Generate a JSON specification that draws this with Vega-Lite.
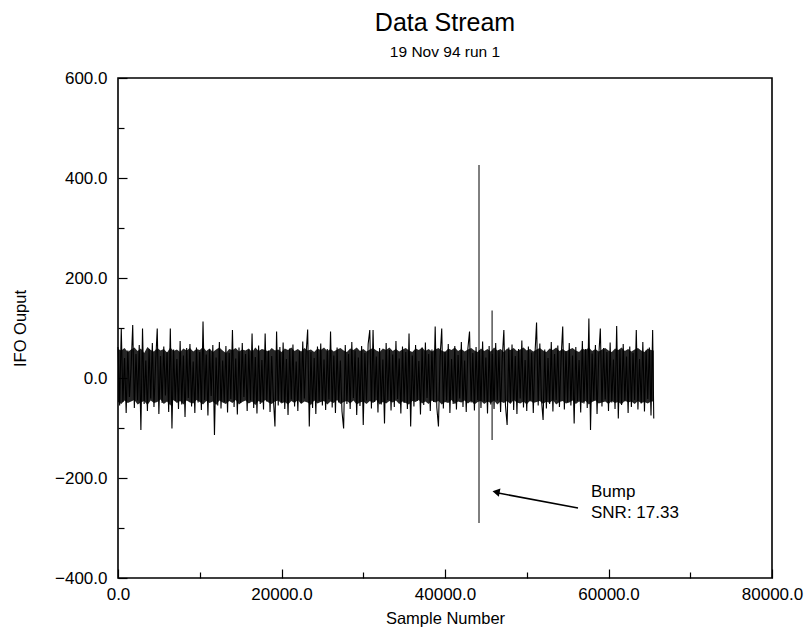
{
  "$schema": "https://vega.github.io/schema/vega-lite/v6.json",
  "width": 654,
  "height": 500,
  "autosize": "none",
  "padding": {"left": 118, "top": 78, "right": 32, "bottom": 52},
  "background": "white",
  "title": {
    "text": "Data Stream",
    "subtitle": "19 Nov 94 run 1",
    "font": "Liberation Sans",
    "fontSize": 25,
    "fontWeight": "normal",
    "color": "black",
    "subtitleFont": "Liberation Sans",
    "subtitleFontSize": 15.5,
    "subtitleColor": "black",
    "subtitlePadding": 9,
    "offset": 9,
    "anchor": "middle"
  },
  "config": {
    "view": {"stroke": "black", "strokeWidth": 1.6},
    "axis": {
      "grid": false,
      "domain": false,
      "labelFont": "Liberation Sans",
      "labelFontSize": 17,
      "labelColor": "black",
      "labelFlush": false,
      "titleFont": "Liberation Sans",
      "titleFontSize": 16.5,
      "titleFontWeight": "normal",
      "titleColor": "black",
      "tickColor": "black",
      "tickWidth": 1.2
    }
  },
  "datasets": {
    "core": [
      {"s": 0, "clo": -48, "chi": 58}, {"s": 400, "clo": -52, "chi": 55}, {"s": 800, "clo": -45, "chi": 60},
      {"s": 1200, "clo": -50, "chi": 52}, {"s": 1600, "clo": -47, "chi": 57}, {"s": 2000, "clo": -44, "chi": 61},
      {"s": 2400, "clo": -53, "chi": 54}, {"s": 2800, "clo": -49, "chi": 59}, {"s": 3200, "clo": -46, "chi": 50},
      {"s": 3600, "clo": -54, "chi": 62}, {"s": 4000, "clo": -45, "chi": 56}, {"s": 4400, "clo": -50, "chi": 53},
      {"s": 4800, "clo": -48, "chi": 60}, {"s": 5200, "clo": -43, "chi": 55}, {"s": 5600, "clo": -52, "chi": 58},
      {"s": 6000, "clo": -47, "chi": 51}, {"s": 6400, "clo": -55, "chi": 61}, {"s": 6800, "clo": -44, "chi": 54},
      {"s": 7200, "clo": -50, "chi": 57}, {"s": 7600, "clo": -46, "chi": 52}, {"s": 8000, "clo": -53, "chi": 59},
      {"s": 8400, "clo": -45, "chi": 55}, {"s": 8800, "clo": -49, "chi": 60}, {"s": 9200, "clo": -51, "chi": 53},
      {"s": 9600, "clo": -44, "chi": 58}, {"s": 10000, "clo": -48, "chi": 56}, {"s": 10400, "clo": -53, "chi": 62},
      {"s": 10800, "clo": -46, "chi": 54}, {"s": 11200, "clo": -50, "chi": 59}, {"s": 11600, "clo": -47, "chi": 52},
      {"s": 12000, "clo": -54, "chi": 57}, {"s": 12400, "clo": -45, "chi": 61}, {"s": 12800, "clo": -49, "chi": 55},
      {"s": 13200, "clo": -52, "chi": 50}, {"s": 13600, "clo": -46, "chi": 58}, {"s": 14000, "clo": -50, "chi": 56},
      {"s": 14400, "clo": -44, "chi": 60}, {"s": 14800, "clo": -53, "chi": 53}, {"s": 15200, "clo": -48, "chi": 57},
      {"s": 15600, "clo": -45, "chi": 55}, {"s": 16000, "clo": -51, "chi": 59}, {"s": 16400, "clo": -47, "chi": 52},
      {"s": 16800, "clo": -54, "chi": 61}, {"s": 17200, "clo": -46, "chi": 54}, {"s": 17600, "clo": -50, "chi": 58},
      {"s": 18000, "clo": -44, "chi": 56}, {"s": 18400, "clo": -49, "chi": 53}, {"s": 18800, "clo": -52, "chi": 60},
      {"s": 19200, "clo": -47, "chi": 55}, {"s": 19600, "clo": -45, "chi": 57}, {"s": 20000, "clo": -51, "chi": 52},
      {"s": 20400, "clo": -48, "chi": 59}, {"s": 20800, "clo": -53, "chi": 56}, {"s": 21200, "clo": -46, "chi": 61},
      {"s": 21600, "clo": -50, "chi": 54}, {"s": 22000, "clo": -44, "chi": 58}, {"s": 22400, "clo": -52, "chi": 53},
      {"s": 22800, "clo": -47, "chi": 60}, {"s": 23200, "clo": -49, "chi": 55}, {"s": 23600, "clo": -54, "chi": 57},
      {"s": 24000, "clo": -45, "chi": 52}, {"s": 24400, "clo": -51, "chi": 59}, {"s": 24800, "clo": -48, "chi": 56},
      {"s": 25200, "clo": -46, "chi": 61}, {"s": 25600, "clo": -53, "chi": 54}, {"s": 26000, "clo": -47, "chi": 58},
      {"s": 26400, "clo": -50, "chi": 53}, {"s": 26800, "clo": -44, "chi": 57}, {"s": 27200, "clo": -52, "chi": 60},
      {"s": 27600, "clo": -48, "chi": 55}, {"s": 28000, "clo": -46, "chi": 52}, {"s": 28400, "clo": -51, "chi": 59},
      {"s": 28800, "clo": -45, "chi": 56}, {"s": 29200, "clo": -53, "chi": 61}, {"s": 29600, "clo": -49, "chi": 54},
      {"s": 30000, "clo": -47, "chi": 58}, {"s": 30400, "clo": -52, "chi": 53}, {"s": 30800, "clo": -46, "chi": 57},
      {"s": 31200, "clo": -50, "chi": 60}, {"s": 31600, "clo": -44, "chi": 55}, {"s": 32000, "clo": -53, "chi": 52},
      {"s": 32400, "clo": -48, "chi": 59}, {"s": 32800, "clo": -51, "chi": 56}, {"s": 33200, "clo": -46, "chi": 61},
      {"s": 33600, "clo": -49, "chi": 54}, {"s": 34000, "clo": -45, "chi": 58}, {"s": 34400, "clo": -52, "chi": 53},
      {"s": 34800, "clo": -47, "chi": 57}, {"s": 35200, "clo": -50, "chi": 60}, {"s": 35600, "clo": -53, "chi": 55},
      {"s": 36000, "clo": -46, "chi": 52}, {"s": 36400, "clo": -48, "chi": 59}, {"s": 36800, "clo": -44, "chi": 56},
      {"s": 37200, "clo": -51, "chi": 61}, {"s": 37600, "clo": -47, "chi": 54}, {"s": 38000, "clo": -52, "chi": 58},
      {"s": 38400, "clo": -45, "chi": 53}, {"s": 38800, "clo": -49, "chi": 57}, {"s": 39200, "clo": -46, "chi": 60},
      {"s": 39600, "clo": -53, "chi": 55}, {"s": 40000, "clo": -48, "chi": 52}, {"s": 40400, "clo": -50, "chi": 59},
      {"s": 40800, "clo": -44, "chi": 56}, {"s": 41200, "clo": -52, "chi": 61}, {"s": 41600, "clo": -47, "chi": 54},
      {"s": 42000, "clo": -49, "chi": 58}, {"s": 42400, "clo": -45, "chi": 53}, {"s": 42800, "clo": -51, "chi": 57},
      {"s": 43200, "clo": -46, "chi": 60}, {"s": 43600, "clo": -53, "chi": 55}, {"s": 44000, "clo": -48, "chi": 52},
      {"s": 44400, "clo": -46, "chi": 59}, {"s": 44800, "clo": -52, "chi": 54}, {"s": 45200, "clo": -47, "chi": 58},
      {"s": 45600, "clo": -50, "chi": 53}, {"s": 46000, "clo": -45, "chi": 61}, {"s": 46400, "clo": -53, "chi": 55},
      {"s": 46800, "clo": -47, "chi": 58}, {"s": 47200, "clo": -50, "chi": 52}, {"s": 47600, "clo": -46, "chi": 59},
      {"s": 48000, "clo": -52, "chi": 56}, {"s": 48400, "clo": -44, "chi": 60}, {"s": 48800, "clo": -49, "chi": 54},
      {"s": 49200, "clo": -51, "chi": 57}, {"s": 49600, "clo": -47, "chi": 61}, {"s": 50000, "clo": -53, "chi": 55},
      {"s": 50400, "clo": -45, "chi": 58}, {"s": 50800, "clo": -50, "chi": 53}, {"s": 51200, "clo": -48, "chi": 57},
      {"s": 51600, "clo": -46, "chi": 60}, {"s": 52000, "clo": -52, "chi": 55}, {"s": 52400, "clo": -47, "chi": 52},
      {"s": 52800, "clo": -50, "chi": 59}, {"s": 53200, "clo": -44, "chi": 56}, {"s": 53600, "clo": -53, "chi": 61},
      {"s": 54000, "clo": -48, "chi": 54}, {"s": 54400, "clo": -46, "chi": 58}, {"s": 54800, "clo": -51, "chi": 53},
      {"s": 55200, "clo": -49, "chi": 57}, {"s": 55600, "clo": -45, "chi": 60}, {"s": 56000, "clo": -52, "chi": 55},
      {"s": 56400, "clo": -47, "chi": 52}, {"s": 56800, "clo": -50, "chi": 59}, {"s": 57200, "clo": -46, "chi": 56},
      {"s": 57600, "clo": -53, "chi": 61}, {"s": 58000, "clo": -48, "chi": 54}, {"s": 58400, "clo": -45, "chi": 58},
      {"s": 58800, "clo": -51, "chi": 53}, {"s": 59200, "clo": -49, "chi": 57}, {"s": 59600, "clo": -47, "chi": 60},
      {"s": 60000, "clo": -52, "chi": 55}, {"s": 60400, "clo": -46, "chi": 52}, {"s": 60800, "clo": -50, "chi": 59},
      {"s": 61200, "clo": -48, "chi": 56}, {"s": 61600, "clo": -53, "chi": 61}, {"s": 62000, "clo": -45, "chi": 54},
      {"s": 62400, "clo": -49, "chi": 58}, {"s": 62800, "clo": -47, "chi": 53}, {"s": 63200, "clo": -52, "chi": 57},
      {"s": 63600, "clo": -46, "chi": 60}, {"s": 64000, "clo": -50, "chi": 55}, {"s": 64400, "clo": -48, "chi": 52},
      {"s": 64800, "clo": -51, "chi": 59}, {"s": 65200, "clo": -47, "chi": 56}, {"s": 65536, "clo": -47, "chi": 55}
    ],
    "trace": [
      {"s": 0, "v": 62}, {"s": 200, "v": -55}, {"s": 400, "v": 99}, {"s": 600, "v": -48}, {"s": 800, "v": 40},
      {"s": 1000, "v": -70}, {"s": 1200, "v": 55}, {"s": 1400, "v": -38}, {"s": 1600, "v": 20}, {"s": 1800, "v": 106},
      {"s": 2000, "v": -60}, {"s": 2200, "v": 48}, {"s": 2400, "v": -45}, {"s": 2600, "v": 66}, {"s": 2800, "v": -104},
      {"s": 3000, "v": 99}, {"s": 3200, "v": -52}, {"s": 3400, "v": 35}, {"s": 3600, "v": -66}, {"s": 3800, "v": 58},
      {"s": 4000, "v": -41}, {"s": 4200, "v": 70}, {"s": 4400, "v": -58}, {"s": 4600, "v": 30}, {"s": 4800, "v": 99},
      {"s": 5000, "v": -72}, {"s": 5200, "v": 44}, {"s": 5400, "v": -50}, {"s": 5600, "v": 63}, {"s": 5800, "v": -35},
      {"s": 6000, "v": 52}, {"s": 6200, "v": -68}, {"s": 6400, "v": 99}, {"s": 6600, "v": -101}, {"s": 6800, "v": 57},
      {"s": 7000, "v": -46}, {"s": 7200, "v": 38}, {"s": 7400, "v": -62}, {"s": 7600, "v": 74}, {"s": 7800, "v": -53},
      {"s": 8000, "v": 45}, {"s": 8200, "v": -78}, {"s": 8400, "v": 60}, {"s": 8600, "v": -40}, {"s": 8800, "v": 68},
      {"s": 9000, "v": -57}, {"s": 9200, "v": 33}, {"s": 9400, "v": -70}, {"s": 9600, "v": 61}, {"s": 9800, "v": -49},
      {"s": 10000, "v": 52}, {"s": 10200, "v": -64}, {"s": 10400, "v": 113}, {"s": 10600, "v": -44}, {"s": 10800, "v": 47},
      {"s": 11000, "v": -75}, {"s": 11200, "v": 58}, {"s": 11400, "v": -36}, {"s": 11600, "v": 66}, {"s": 11800, "v": -114},
      {"s": 12000, "v": 41}, {"s": 12200, "v": -55}, {"s": 12400, "v": 72}, {"s": 12600, "v": -61}, {"s": 12800, "v": 35},
      {"s": 13000, "v": -48}, {"s": 13200, "v": 64}, {"s": 13400, "v": -69}, {"s": 13600, "v": 50}, {"s": 13800, "v": -42},
      {"s": 14000, "v": 96}, {"s": 14200, "v": -58}, {"s": 14400, "v": 39}, {"s": 14600, "v": -73}, {"s": 14800, "v": 61},
      {"s": 15000, "v": -50}, {"s": 15200, "v": 70}, {"s": 15400, "v": -38}, {"s": 15600, "v": 48}, {"s": 15800, "v": -66},
      {"s": 16000, "v": 57}, {"s": 16200, "v": -45}, {"s": 16400, "v": 89}, {"s": 16600, "v": -60}, {"s": 16800, "v": 42},
      {"s": 17000, "v": -71}, {"s": 17200, "v": 65}, {"s": 17400, "v": -52}, {"s": 17600, "v": 36}, {"s": 17800, "v": -63},
      {"s": 18000, "v": 89}, {"s": 18200, "v": -47}, {"s": 18400, "v": 55}, {"s": 18600, "v": -68}, {"s": 18800, "v": 44},
      {"s": 19000, "v": -39}, {"s": 19200, "v": -97}, {"s": 19400, "v": 93}, {"s": 19600, "v": -55}, {"s": 19800, "v": 62},
      {"s": 20000, "v": -48}, {"s": 20200, "v": 71}, {"s": 20400, "v": -62}, {"s": 20600, "v": 38}, {"s": 20800, "v": -74},
      {"s": 21000, "v": 59}, {"s": 21200, "v": -43}, {"s": 21400, "v": 67}, {"s": 21600, "v": -57}, {"s": 21800, "v": 33},
      {"s": 22000, "v": -66}, {"s": 22200, "v": 54}, {"s": 22400, "v": -50}, {"s": 22600, "v": 73}, {"s": 22800, "v": -41},
      {"s": 23000, "v": 46}, {"s": 23200, "v": 97}, {"s": 23400, "v": -97}, {"s": 23600, "v": 52}, {"s": 23800, "v": -60},
      {"s": 24000, "v": 40}, {"s": 24200, "v": -72}, {"s": 24400, "v": 63}, {"s": 24600, "v": -46}, {"s": 24800, "v": 69},
      {"s": 25000, "v": -55}, {"s": 25200, "v": 37}, {"s": 25400, "v": -64}, {"s": 25600, "v": 58}, {"s": 25800, "v": -43},
      {"s": 26000, "v": 93}, {"s": 26200, "v": -59}, {"s": 26400, "v": 45}, {"s": 26600, "v": -70}, {"s": 26800, "v": 61},
      {"s": 27000, "v": -49}, {"s": 27200, "v": 35}, {"s": 27400, "v": -67}, {"s": 27600, "v": -101}, {"s": 27800, "v": 66},
      {"s": 28000, "v": -52}, {"s": 28200, "v": 48}, {"s": 28400, "v": -62}, {"s": 28600, "v": 72}, {"s": 28800, "v": -40},
      {"s": 29000, "v": 55}, {"s": 29200, "v": -74}, {"s": 29400, "v": 41}, {"s": 29600, "v": -56}, {"s": 29800, "v": 64},
      {"s": 30000, "v": -94}, {"s": 30200, "v": 50}, {"s": 30400, "v": -45}, {"s": 30600, "v": 68}, {"s": 30800, "v": 96},
      {"s": 31000, "v": -61}, {"s": 31200, "v": 96}, {"s": 31400, "v": -48}, {"s": 31600, "v": 43}, {"s": 31800, "v": -69},
      {"s": 32000, "v": 60}, {"s": 32200, "v": -53}, {"s": 32400, "v": 37}, {"s": 32600, "v": -91}, {"s": 32800, "v": 70},
      {"s": 33000, "v": -44}, {"s": 33200, "v": 56}, {"s": 33400, "v": -65}, {"s": 33600, "v": 47}, {"s": 33800, "v": -58},
      {"s": 34000, "v": 74}, {"s": 34200, "v": -42}, {"s": 34400, "v": 39}, {"s": 34600, "v": -71}, {"s": 34800, "v": 63},
      {"s": 35000, "v": -50}, {"s": 35200, "v": 52}, {"s": 35400, "v": -62}, {"s": 35600, "v": 89}, {"s": 35800, "v": -97},
      {"s": 36000, "v": 45}, {"s": 36200, "v": -57}, {"s": 36400, "v": 66}, {"s": 36600, "v": -46}, {"s": 36800, "v": 34},
      {"s": 37000, "v": -73}, {"s": 37200, "v": 61}, {"s": 37400, "v": -54}, {"s": 37600, "v": 71}, {"s": 37800, "v": -40},
      {"s": 38000, "v": 48}, {"s": 38200, "v": -66}, {"s": 38400, "v": 57}, {"s": 38600, "v": -48}, {"s": 38800, "v": 103},
      {"s": 39000, "v": -59}, {"s": 39200, "v": -97}, {"s": 39400, "v": 42}, {"s": 39600, "v": 99}, {"s": 39800, "v": -61},
      {"s": 40000, "v": 53}, {"s": 40200, "v": -45}, {"s": 40400, "v": 68}, {"s": 40600, "v": -70}, {"s": 40800, "v": 38},
      {"s": 41000, "v": -52}, {"s": 41200, "v": 64}, {"s": 41400, "v": -63}, {"s": 41600, "v": 46}, {"s": 41800, "v": -41},
      {"s": 42000, "v": 72}, {"s": 42200, "v": -58}, {"s": 42400, "v": 35}, {"s": 42600, "v": -68}, {"s": 42800, "v": 59},
      {"s": 43000, "v": 93}, {"s": 43200, "v": -49}, {"s": 43400, "v": 50}, {"s": 43600, "v": -65}, {"s": 43800, "v": 62},
      {"s": 44000, "v": -44}, {"s": 44200, "v": 56}, {"s": 44400, "v": -60}, {"s": 44600, "v": 73}, {"s": 44800, "v": -47},
      {"s": 45000, "v": 41}, {"s": 45200, "v": -71}, {"s": 45400, "v": 64}, {"s": 45600, "v": -53}, {"s": 45800, "v": 48},
      {"s": 46000, "v": -62}, {"s": 46200, "v": 70}, {"s": 46400, "v": -45}, {"s": 46600, "v": 55}, {"s": 46800, "v": -68},
      {"s": 47000, "v": 38}, {"s": 47200, "v": 96}, {"s": 47400, "v": -56}, {"s": 47600, "v": -94}, {"s": 47800, "v": 61},
      {"s": 48000, "v": -49}, {"s": 48200, "v": 67}, {"s": 48400, "v": -64}, {"s": 48600, "v": 44}, {"s": 48800, "v": -72},
      {"s": 49000, "v": 58}, {"s": 49200, "v": -41}, {"s": 49400, "v": 75}, {"s": 49600, "v": -59}, {"s": 49800, "v": 36},
      {"s": 50000, "v": -66}, {"s": 50200, "v": 63}, {"s": 50400, "v": -47}, {"s": 50600, "v": 51}, {"s": 50800, "v": -70},
      {"s": 51000, "v": 46}, {"s": 51200, "v": 111}, {"s": 51400, "v": -55}, {"s": 51600, "v": 69}, {"s": 51800, "v": -43},
      {"s": 52000, "v": -84}, {"s": 52200, "v": 57}, {"s": 52400, "v": -61}, {"s": 52600, "v": 40}, {"s": 52800, "v": -52},
      {"s": 53000, "v": 72}, {"s": 53200, "v": -67}, {"s": 53400, "v": 48}, {"s": 53600, "v": -44}, {"s": 53800, "v": 65},
      {"s": 54000, "v": -58}, {"s": 54200, "v": 39}, {"s": 54400, "v": 103}, {"s": 54600, "v": -63}, {"s": 54800, "v": 54},
      {"s": 55000, "v": -48}, {"s": 55200, "v": 70}, {"s": 55400, "v": -55}, {"s": 55600, "v": 45}, {"s": 55800, "v": -91},
      {"s": 56000, "v": 62}, {"s": 56200, "v": -46}, {"s": 56400, "v": 36}, {"s": 56600, "v": -69}, {"s": 56800, "v": 74},
      {"s": 57000, "v": -51}, {"s": 57200, "v": 58}, {"s": 57400, "v": -60}, {"s": 57600, "v": 119}, {"s": 57800, "v": -104},
      {"s": 58000, "v": 49}, {"s": 58200, "v": -45}, {"s": 58400, "v": 66}, {"s": 58600, "v": -72}, {"s": 58800, "v": 41},
      {"s": 59000, "v": 99}, {"s": 59200, "v": -57}, {"s": 59400, "v": 60}, {"s": 59600, "v": -43}, {"s": 59800, "v": 52},
      {"s": 60000, "v": -66}, {"s": 60200, "v": 71}, {"s": 60400, "v": -49}, {"s": 60600, "v": 37}, {"s": 60800, "v": -62},
      {"s": 61000, "v": 104}, {"s": 61200, "v": -81}, {"s": 61400, "v": 56}, {"s": 61600, "v": -54}, {"s": 61800, "v": 68},
      {"s": 62000, "v": -47}, {"s": 62200, "v": 43}, {"s": 62400, "v": -70}, {"s": 62600, "v": 63}, {"s": 62800, "v": -58},
      {"s": 63000, "v": 50}, {"s": 63200, "v": -44}, {"s": 63400, "v": 96}, {"s": 63600, "v": -63}, {"s": 63800, "v": 38},
      {"s": 64000, "v": -51}, {"s": 64200, "v": 72}, {"s": 64400, "v": -67}, {"s": 64600, "v": 55}, {"s": 64800, "v": -42},
      {"s": 65000, "v": 61}, {"s": 65200, "v": -75}, {"s": 65400, "v": 96}, {"s": 65536, "v": -81}
    ],
    "spikes": [
      {"s": 44160, "lo": -290, "hi": 426},
      {"s": 45760, "lo": -124, "hi": 135}
    ],
    "arrow": [
      {"s1": 56269, "v1": -260, "s2": 46200, "v2": -229}
    ],
    "head": [
      {"s": 46250, "v": -228}
    ],
    "note": [
      {"s": 57859, "v": -228, "label": "Bump"},
      {"s": 57859, "v": -270, "label": "SNR: 17.33"}
    ]
  },
  "layer": [
    {
      "data": {"name": "core"},
      "mark": {"type": "area", "color": "black", "opacity": 0.85},
      "encoding": {
        "x": {
          "field": "s",
          "type": "quantitative",
          "scale": {"domain": [0, 80000], "nice": false, "zero": false},
          "axis": {
            "title": "Sample Number",
            "values": [0, 10000, 20000, 30000, 40000, 50000, 60000, 70000, 80000],
            "labelExpr": "datum.value % 20000 === 0 ? format(datum.value, '.1f') : ''",
            "tickSize": {"condition": {"test": "datum.value % 20000 === 0", "value": -9}, "value": -6},
            "labelPadding": 17,
            "titlePadding": 8
          }
        },
        "y": {
          "field": "clo",
          "type": "quantitative",
          "scale": {"domain": [-400, 600], "nice": false, "zero": false},
          "axis": {
            "title": "IFO Ouput",
            "values": [-400, -300, -200, -100, 0, 100, 200, 300, 400, 500, 600],
            "labelExpr": "datum.value % 200 === 0 ? format(datum.value, '.1f') : ''",
            "tickSize": {"condition": {"test": "datum.value % 200 === 0", "value": -9}, "value": -6},
            "labelPadding": 20,
            "titlePadding": 26
          }
        },
        "y2": {"field": "chi"}
      }
    },
    {
      "data": {"name": "trace"},
      "mark": {"type": "line", "color": "black", "strokeWidth": 1.1},
      "encoding": {
        "x": {"field": "s", "type": "quantitative"},
        "y": {"field": "v", "type": "quantitative"}
      }
    },
    {
      "data": {"name": "spikes"},
      "mark": {"type": "rule", "color": "black", "strokeWidth": 1},
      "encoding": {
        "x": {"field": "s", "type": "quantitative"},
        "y": {"field": "lo", "type": "quantitative"},
        "y2": {"field": "hi"}
      }
    },
    {
      "data": {"name": "arrow"},
      "mark": {"type": "rule", "color": "black", "strokeWidth": 1.6},
      "encoding": {
        "x": {"field": "s1", "type": "quantitative"},
        "y": {"field": "v1", "type": "quantitative"},
        "x2": {"field": "s2"},
        "y2": {"field": "v2"}
      }
    },
    {
      "data": {"name": "head"},
      "mark": {"type": "point", "shape": "triangle-left", "filled": true, "color": "black", "size": 70, "angle": 11, "opacity": 1},
      "encoding": {
        "x": {"field": "s", "type": "quantitative"},
        "y": {"field": "v", "type": "quantitative"}
      }
    },
    {
      "data": {"name": "note"},
      "mark": {"type": "text", "align": "left", "baseline": "middle", "font": "Liberation Sans", "fontSize": 17, "color": "black"},
      "encoding": {
        "x": {"field": "s", "type": "quantitative"},
        "y": {"field": "v", "type": "quantitative"},
        "text": {"field": "label"}
      }
    }
  ]
}
